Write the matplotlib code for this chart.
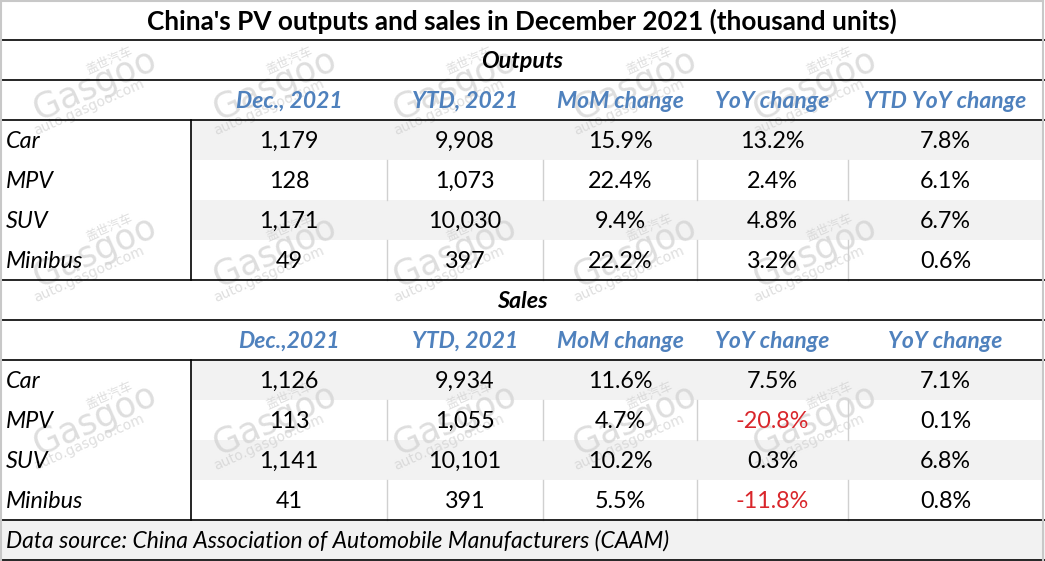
import matplotlib.pyplot as plt

# ---- data ----
title = "China's PV outputs and sales in December 2021 (thousand units)"
models = ['Car', 'MPV', 'SUV', 'Minibus']

out_header = ['Dec., 2021', 'YTD, 2021', 'MoM change', 'YoY change', 'YTD YoY change']
out_month = [1179, 128, 1171, 49]
out_ytd = [9908, 1073, 10030, 397]
out_mom = [15.9, 22.4, 9.4, 22.2]
out_yoy = [13.2, 2.4, 4.8, 3.2]
out_ytd_yoy = [7.8, 6.1, 6.7, 0.6]

sales_header = ['Dec.,2021', 'YTD, 2021', 'MoM change', 'YoY change', 'YoY change']
sales_month = [1126, 113, 1141, 41]
sales_ytd = [9934, 1055, 10101, 391]
sales_mom = [11.6, 4.7, 10.2, 5.5]
sales_yoy = [7.5, -20.8, 0.3, -11.8]
sales_ytd_yoy = [7.1, 0.1, 6.8, 0.8]

source = "Data source: China Association of Automobile Manufacturers (CAAM)"

# ---- layout (pixels) ----
W, H = 1045, 561
col_edges = [191, 387, 543, 697, 848, 1043]
row_h = 40
blue = '#4f81bd'
red = '#d9262b'
shade = '#f2f2f2'
FONT = 'Lato'
FS = 16.8

fig = plt.figure(figsize=(W / 100, H / 100), dpi=100)
ax = fig.add_axes([0, 0, 1, 1])
ax.set_xlim(0, W)
ax.set_ylim(H, 0)
ax.axis('off')


def fmt_int(v):
    return f'{v:,}'


def fmt_pct(v):
    return f'{v:.1f}%'


def watermark(x, y):
    kw = dict(rotation=24, color='#cdcdcd', alpha=0.65, ha='center', va='center', zorder=1)
    ax.text(x + 14, y - 24, '盖世汽车', fontsize=9, family=['Noto Sans CJK SC', 'DejaVu Sans'], **kw)
    ax.text(x, y, 'Gasgoo', fontsize=25, family='DejaVu Sans', **kw)
    ax.text(x - 6, y + 22, 'auto.gasgoo.com', fontsize=10, family='DejaVu Sans', **kw)


def section(top, name, header, cols):
    # section name row
    ax.text(W / 2, top + row_h / 2 + 1, name, ha='center', va='center', fontsize=FS,
            fontweight='bold', style='italic', family=FONT, zorder=5)
    # header row
    hy = top + row_h * 1.5 + 1
    for i, h in enumerate(header):
        cx = (col_edges[i] + col_edges[i + 1]) / 2
        ax.text(cx, hy, h, ha='center', va='center', fontsize=FS - 0.3, fontweight='bold',
                style='italic', color=blue, family=FONT, zorder=5)
    body = top + 2 * row_h
    for r, m in enumerate(models):
        y0 = body + r * row_h
        if r % 2 == 0:
            ax.fill_between([col_edges[0], col_edges[-1]], y0, y0 + row_h, color=shade, lw=0, zorder=0)
        else:
            for x in col_edges[1:-1]:
                ax.plot([x, x], [y0, y0 + row_h], color='#d0d0d0', lw=1, zorder=2)
        ax.text(6, y0 + row_h / 2 + 1, m, ha='left', va='center', fontsize=FS, style='italic',
                family=FONT, zorder=5)
        for c, (vals, f) in enumerate(cols):
            cx = (col_edges[c] + col_edges[c + 1]) / 2
            v = vals[r]
            ax.text(cx, y0 + row_h / 2 + 1, f(v), ha='center', va='center', fontsize=FS,
                    color=red if v < 0 else 'black', family=FONT, zorder=5)
    ax.plot([col_edges[0]] * 2, [body, body + 4 * row_h], color='black', lw=1.2, zorder=3)


section(40, 'Outputs', out_header,
        [(out_month, fmt_int), (out_ytd, fmt_int), (out_mom, fmt_pct),
         (out_yoy, fmt_pct), (out_ytd_yoy, fmt_pct)])
section(280, 'Sales', sales_header,
        [(sales_month, fmt_int), (sales_ytd, fmt_int), (sales_mom, fmt_pct),
         (sales_yoy, fmt_pct), (sales_ytd_yoy, fmt_pct)])

# title + footer
ax.text(W / 2 - 1, 21, title, ha='center', va='center', fontsize=18.8, fontweight='bold',
        family=FONT, zorder=5)
ax.fill_between([0, W], 520, 560, color=shade, lw=0, zorder=0)
ax.text(6, 541, source, ha='left', va='center', fontsize=FS - 0.3, style='italic',
        family=FONT, zorder=5)

# horizontal rules
for y in [40, 80, 120, 280, 320, 360, 520, 560]:
    ax.plot([0, W], [y, y], color='black', lw=1.2, zorder=3)
# outer light border
ax.plot([1, 1], [1, 560], color='#c8c8c8', lw=1.5, zorder=3)
ax.plot([1043, 1043], [1, 560], color='#c8c8c8', lw=1.5, zorder=3)
ax.plot([1, 1043], [1, 1], color='#c8c8c8', lw=1.5, zorder=3)

# watermark grid
for wy in [85, 252, 420]:
    for wx in [95, 275, 455, 635, 815]:
        watermark(wx, wy)

fig.savefig('out.png', dpi=100)
